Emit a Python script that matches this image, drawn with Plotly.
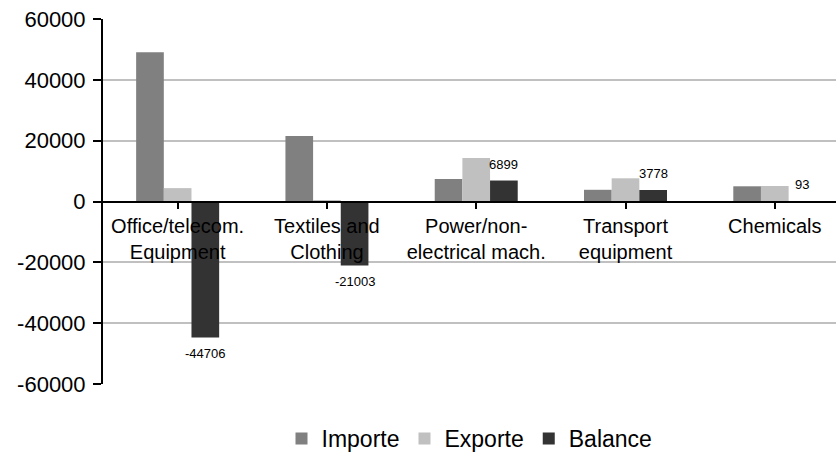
import plotly.graph_objects as go

categories = ["Office/telecom.<br>Equipment", "Textiles and<br>Clothing",
              "Power/non-<br>electrical mach.", "Transport<br>equipment", "Chemicals"]
importe = [49106, 21500, 7400, 3850, 5000]
exporte = [4400, 497, 14299, 7628, 5093]
balance = [-44706, -21003, 6899, 3778, 93]
y_ticks = [-60000, -40000, -20000, 0, 20000, 40000, 60000]

colors = {"Importe": "#808080", "Exporte": "#c0c0c0", "Balance": "#333333"}
font_family = "Liberation Sans, Arial, sans-serif"

fig = go.Figure()
for name, vals in [("Importe", importe), ("Exporte", exporte), ("Balance", balance)]:
    fig.add_trace(go.Bar(name=name, x=list(range(len(categories))), y=vals,
                         marker=dict(color=colors[name], line=dict(width=0))))

bargap = 0.444
bar_w = (1 - bargap) / 3
for i, v in enumerate(balance):
    fig.add_annotation(x=i + bar_w, y=v, xref="x", yref="y", text=str(v),
                       showarrow=False, font=dict(size=13, color="#000000", family=font_family),
                       yanchor="bottom" if v >= 0 else "top",
                       yshift=7 if v >= 0 else -7)

fig.update_layout(
    width=836, height=460,
    margin=dict(l=103, r=0, t=19, b=75),
    paper_bgcolor="white", plot_bgcolor="white",
    barmode="group", bargap=bargap, bargroupgap=0,
    font=dict(family=font_family, color="#000000"),
    showlegend=True,
    legend=dict(orientation="h", x=0.5, xanchor="center", y=-0.15, yanchor="middle",
                font=dict(size=23), itemclick=False, tracegroupgap=0),
    xaxis=dict(tickmode="array", tickvals=list(range(len(categories))), ticktext=categories,
               range=[-0.5, 4.41], anchor="free", position=0.5,
               showline=True, linecolor="#000000", linewidth=2,
               ticks="outside", ticklen=6, tickwidth=2, tickcolor="#000000",
               showgrid=False, zeroline=False,
               tickfont=dict(size=20)),
    yaxis=dict(range=[-60000, 60000], tickmode="array", tickvals=y_ticks,
               ticktext=[str(t) for t in y_ticks],
               showline=True, linecolor="#000000", linewidth=2,
               ticks="outside", ticklen=8, tickwidth=2, tickcolor="#000000",
               showgrid=True, gridcolor="#c0c0c0", gridwidth=1.5,
               zeroline=True, zerolinecolor="#000000", zerolinewidth=2,
               tickfont=dict(size=22), ticklabelstandoff=3),
)
fig.update_xaxes(tickson="boundaries")

fig.write_html("out.html")
